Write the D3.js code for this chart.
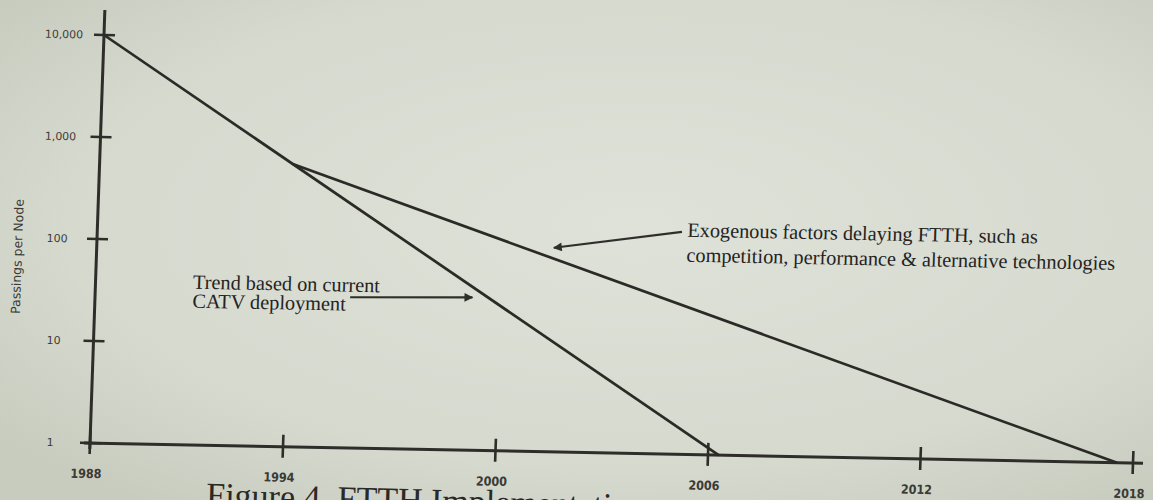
<!DOCTYPE html>
<html lang="en">
<head>
    <meta charset="UTF-8">
    <title>Passings per Node - FTTH trend</title>
    <style>
        body { margin: 0; overflow: hidden; }
        #chart { width: 1153px; height: 500px; display: block; }
        .axis-line { stroke: #2e2d29; stroke-width: 3; fill: none; stroke-linecap: butt; }
        .tick-mark { stroke: #2e2d29; stroke-width: 2.6; }
        .trend { stroke: #2b2a26; stroke-width: 2.7; fill: none; }
        .ylab { font: 11px 'DejaVu Sans', sans-serif; fill: #3b3b37; }
        .xlab { font: bold 12.5px 'DejaVu Sans Condensed', 'DejaVu Sans', sans-serif; fill: #3a3a36; }
        .ytitle { font: 12.5px 'DejaVu Sans', sans-serif; fill: #3b3b37; }
        .note { font: 20.3px 'Liberation Serif', 'Times New Roman', serif; fill: #24231f; }
        .caption { font: 34px 'Liberation Serif', 'Times New Roman', serif; fill: #2a2925; }
        .arrow { stroke: #2f2e2a; stroke-width: 2.2; fill: none; }
    </style>
</head>
<body>
    <svg id="chart" width="1153" height="500">
        <defs>
            <radialGradient id="paper" cx="55%" cy="45%" r="70%">
                <stop offset="0%" stop-color="#dfe2d8" />
                <stop offset="70%" stop-color="#d6d9ce" />
                <stop offset="100%" stop-color="#c8ccbf" />
            </radialGradient>
            <marker id="head" viewBox="0 0 10 10" refX="9" refY="5" markerWidth="8" markerHeight="4"
                    markerUnits="strokeWidth" orient="auto">
                <path d="M0,0 L10,5 L0,10 z" fill="#2f2e2a" />
            </marker>
        </defs>
        <rect width="1153" height="500" fill="url(#paper)"></rect>
    </svg>
    <script src="https://d3js.org/d3.v7.min.js"></script>
    <script>
        // tick years and value ticks (log axis)
        const years = [1988, 1994, 2000, 2006, 2012, 2018];
        const valueTicks = [1, 10, 100, 1000, 10000];
        const valueTickLabels = ["1", "10", "100", "1,000", "10,000"];

        // the two straight trend lines
        const trendYears = [1988, 2006.3];
        const trendValues = [10000, 1];
        const exoYears = [1994, 2017.55];
        const exoValues = [590, 1];

        // annotations (anchored in data units)
        const trendNote = ["Trend based on current", "CATV deployment"];
        const exoNote = ["Exogenous factors delaying FTTH, such as",
                         "competition, performance & alternative technologies"];

        const svg = d3.select("#chart");

        // the printed axis is not evenly spaced: first interval is shorter
        const x = d3.scaleLinear().domain([1988, 1994, 2018]).range([0, 193, 1043]);
        const y = d3.scaleLog().domain([1, 10000]).range([0, -408]);

        // page photographed at a slight angle -> skew the whole plot
        const g = svg.append("g")
            .attr("transform", "matrix(1,0.0192,-0.0343,1,90,443)");

        // axes
        g.append("line").attr("class", "axis-line")
            .attr("x1", 0).attr("y1", 6).attr("x2", 0).attr("y2", -433);
        g.append("line").attr("class", "axis-line")
            .attr("x1", -6).attr("y1", 0).attr("x2", x(2018) + 10).attr("y2", 0);

        g.selectAll(".ytick").data(valueTicks).enter().append("line")
            .attr("class", "tick-mark")
            .attr("x1", -10).attr("x2", 11)
            .attr("y1", d => y(d)).attr("y2", d => y(d));

        g.selectAll(".xtick").data(years).enter().append("line")
            .attr("class", "tick-mark")
            .attr("x1", d => x(d)).attr("x2", d => x(d))
            .attr("y1", -12).attr("y2", 11);

        g.selectAll(".ylab").data(valueTicks).enter().append("text")
            .attr("class", "ylab")
            .attr("x", -40)
            .attr("y", d => y(d))
            .attr("dy", "0.35em")
            .attr("text-anchor", "middle")
            .text((d, i) => valueTickLabels[i]);

        g.selectAll(".xlab").data(years).enter().append("text")
            .attr("class", "xlab")
            .attr("x", d => x(d) - 3)
            .attr("y", 35)
            .attr("text-anchor", "middle")
            .text(d => d);

        g.append("text")
            .attr("class", "ytitle")
            .attr("transform", "translate(-79,-185) rotate(-90)")
            .attr("text-anchor", "middle")
            .attr("dy", "0.35em")
            .text("Passings per Node");

        // lines
        const line = d3.line().x(d => x(d[0])).y(d => y(d[1]));
        g.append("path").attr("class", "trend")
            .attr("d", line(d3.zip(trendYears, trendValues)));
        g.append("path").attr("class", "trend")
            .attr("d", line(d3.zip(exoYears, exoValues)));

        // annotation: trend
        const t1 = g.append("text").attr("class", "note")
            .attr("x", x(1991.03)).attr("y", y(34));
        t1.selectAll("tspan").data(trendNote).enter().append("tspan")
            .attr("x", x(1991.03))
            .attr("dy", (d, i) => i ? 19 : 0)
            .text(d => d);
        g.append("line").attr("class", "arrow")
            .attr("x1", x(1995.75)).attr("y1", y(30))
            .attr("x2", x(1999.2)).attr("y2", y(31.5))
            .attr("marker-end", "url(#head)");

        // annotation: exogenous factors
        const t2 = g.append("text").attr("class", "note")
            .attr("x", x(2005.2)).attr("y", y(136));
        t2.selectAll("tspan").data(exoNote).enter().append("tspan")
            .attr("x", x(2005.2))
            .attr("dy", (d, i) => i ? 25 : 0)
            .text(d => d);
        g.append("line").attr("class", "arrow")
            .attr("x1", x(2005.05)).attr("y1", y(151))
            .attr("x2", x(2001.45)).attr("y2", y(100))
            .attr("marker-end", "url(#head)");

        // figure caption, sloping with the page and cut by the bottom edge of the photo
        svg.append("text").attr("class", "caption")
            .attr("x", 206).attr("y", 506)
            .attr("transform", "rotate(1.5,206,506)")
            .text("Figure 4. FTTH Implementation");
    </script>
</body>
</html>
